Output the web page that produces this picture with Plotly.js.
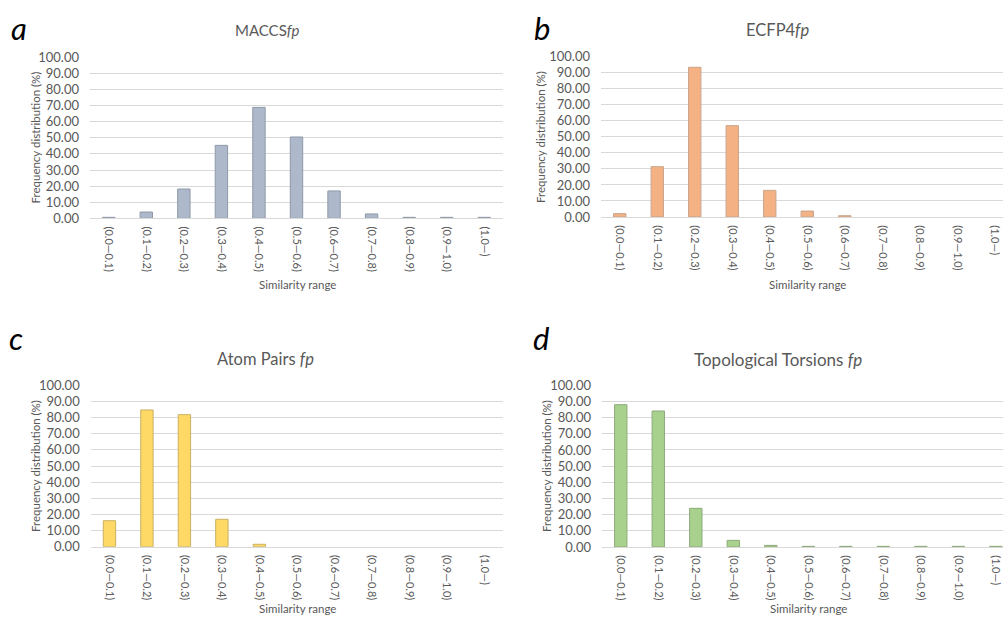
<!DOCTYPE html>
<html>
<head>
<meta charset="utf-8">
<script src="https://cdn.plot.ly/plotly-3.0.1.min.js"></script>
<style>html,body{margin:0;padding:0;background:#fff;}#chart{width:1003px;height:617px;}</style>
</head>
<body>
<div id="chart"></div>
<script>
// ---- data ----
const categories = ['(0.0—0.1)','(0.1—0.2)','(0.2—0.3)','(0.3—0.4)','(0.4—0.5)','(0.5—0.6)','(0.6—0.7)','(0.7—0.8)','(0.8—0.9)','(0.9—1.0)','(1.0—)'];
const maccs     = [0.6, 3.9, 18.2, 45.3, 68.9, 50.5, 17.0, 2.7, 0.6, 0.6, 0.6];
const ecfp4     = [2.1, 31.4, 93.4, 57.0, 16.6, 3.7, 0.8, 0, 0, 0, 0];
const atomPairs = [16.1, 84.7, 81.8, 17.0, 1.5, 0, 0, 0, 0, 0, 0];
const torsions  = [88.0, 84.1, 23.9, 4.1, 1.0, 0.4, 0.4, 0.4, 0.4, 0.4, 0.4];
const yTickVals = [0,10,20,30,40,50,60,70,80,90,100];
const yTickText = ['0.00','10.00','20.00','30.00','40.00','50.00','60.00','70.00','80.00','90.00','100.00'];
const panelTitles = ['MACCS<i>fp</i>','ECFP4<i>fp</i>','Atom Pairs <i>fp</i>','Topological Torsions <i>fp</i>'];
const panelLetters = ['a','b','c','d'];
const xTitle = 'Similarity range';
const yTitle = 'Frequency distribution (%)';

const W = 1003, H = 617;
const FONT = 'Lato, "Open Sans", sans-serif';
const GREY = '#595959';
const px = v => v / W;
const py = v => 1 - v / H;

const series = [maccs, ecfp4, atomPairs, torsions];
const fills = ['#ADB9CA', '#F4B183', '#FFD966', '#A9D18E'];
const borders = ['#8E99A8', '#C9A48C', '#C9B060', '#8DAA7A'];

// geometry per panel: [x0, x1, yTop, yBottom, xRangeMax]
const geo = [
  [90, 503, 57.3, 218.3, 10.5],
  [601, 1003, 56.7, 217, 10.22],
  [90.7, 503, 385.3, 546.7, 10.5],
  [602, 1003, 385.3, 547, 10.19]
];
const titlePos = [[267, 30], [777, 30], [265, 359], [778, 360]];
const titleSizes = [15, 16.5, 16.5, 17];
const letterPos = [[19, 28], [542, 28], [16, 338], [541, 338]];
const xTitlePos = [[297, 284], [807, 284], [297, 608], [808, 608]];
const yTitlePos = [[35, 137.5], [541, 137], [35, 466], [546, 466]];

const data = [];
const layout = {
  width: W, height: H,
  margin: {l: 0, r: 0, t: 0, b: 0},
  paper_bgcolor: '#fff', plot_bgcolor: '#fff',
  showlegend: false,
  bargap: 0.67,
  font: {family: FONT, color: GREY, size: 11},
  annotations: []
};

series.forEach((vals, i) => {
  const n = i === 0 ? '' : String(i + 1);
  data.push({
    type: 'bar', x: categories, y: vals,
    xaxis: 'x' + n, yaxis: 'y' + n,
    marker: {color: fills[i], line: {color: borders[i], width: vals.map(v => v > 0 ? 1 : 0)}},
    hoverinfo: 'x+y'
  });
  const g = geo[i];
  layout['xaxis' + n] = {
    domain: [px(g[0]), px(g[1])], anchor: 'y' + n,
    type: 'category', range: [-0.5, g[4]],
    tickangle: 90, ticks: '', ticklabelstandoff: 5,
    tickfont: {family: FONT, size: 11, color: GREY},
    showgrid: false, zeroline: false,
    showline: true, linecolor: '#D9D9D9', linewidth: 1,
    fixedrange: true
  };
  layout['yaxis' + n] = {
    domain: [py(g[3]), py(g[2])], anchor: 'x' + n,
    range: [0, 100], tickvals: yTickVals, ticktext: yTickText,
    ticks: '', ticklabelstandoff: 10,
    tickfont: {family: FONT, size: 13, color: GREY},
    showgrid: true, gridcolor: '#D9D9D9', gridwidth: 1,
    zeroline: false, showline: false, fixedrange: true
  };
  layout.annotations.push({
    xref: 'paper', yref: 'paper', x: px(titlePos[i][0]), y: py(titlePos[i][1]),
    xanchor: 'center', yanchor: 'middle', showarrow: false,
    text: panelTitles[i], font: {family: FONT, size: titleSizes[i], color: GREY}
  });
  layout.annotations.push({
    xref: 'paper', yref: 'paper', x: px(letterPos[i][0]), y: py(letterPos[i][1]),
    xanchor: 'center', yanchor: 'middle', showarrow: false,
    text: '<i>' + panelLetters[i] + '</i>', font: {family: FONT, size: 31, color: '#000'}
  });
  layout.annotations.push({
    xref: 'paper', yref: 'paper', x: px(xTitlePos[i][0]), y: py(xTitlePos[i][1]),
    xanchor: 'center', yanchor: 'middle', showarrow: false,
    text: xTitle, font: {family: FONT, size: 11.5, color: GREY}
  });
  layout.annotations.push({
    xref: 'paper', yref: 'paper', x: px(yTitlePos[i][0]), y: py(yTitlePos[i][1]),
    xanchor: 'center', yanchor: 'middle', showarrow: false, textangle: -90,
    text: yTitle, font: {family: FONT, size: 11.5, color: GREY}
  });
});

Plotly.newPlot('chart', data, layout, {displayModeBar: false, staticPlot: true});
</script>
</body>
</html>
